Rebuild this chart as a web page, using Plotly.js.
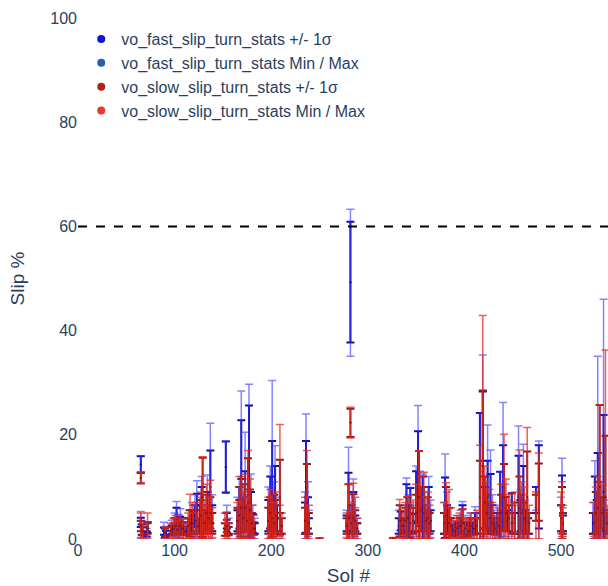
<!DOCTYPE html>
<html>
<head>
<meta charset="utf-8">
<script src="https://cdn.plot.ly/plotly-3.0.1.min.js"></script>
<style>
html,body{margin:0;padding:0;overflow:hidden;background:#fff;}
#chart{width:620px;height:586px;}
</style>
</head>
<body>
<div id="chart"></div>
<script>
// ---- data: vo_fast_slip_turn_stats ----
const fastSol  = [65,65,66,72,71, 89,91,97,100,102,104,106,109,112,115,118,121,123,126,128,131,134,137,139, 153,154,156, 165,167,169,171,173,175,177,179,181,183, 197,199,201,203,204,206,209, 235,236,238,239, 278,280,282,283,285,287,289, 332,334,337,340,342,344,347,350,352,354,357,359,361,363,365, 379,380,382,385,387,390,393,396,398,401,404,406,409,411,413,416,419,421,424,427,429,431,434,437,440,442,445,449,452,456,458,461,463,466,474,477, 500,501,502, 533,535,537,538,541,544,546,549];
const fastMean = [14.3,3.2,1.8,2.2,1.0, 1.5,1.1,1.8,2.8,4.2,2.5,3.0,2.2,1.6,2.5,3.5,4.5,5.5,4.0,6.5,3.5,5.5,10.0,4.0, 13.8,3.5,2.0, 3.5,6.0,12.0,5.0,8.0,4.0,13.0,5.5,3.0,2.0, 4.5,7.0,8.5,5.0,9.0,4.0,3.0, 4.0,10.0,5.0,2.5, 3.0,6.0,49.3,4.0,5.0,3.0,2.0, 2.5,3.5,2.5,5.5,4.0,5.0,3.0,8.0,12.0,6.0,6.0,4.0,3.0,5.0,3.5, 3.0,6.0,4.0,2.5,1.8,1.5,2.0,2.5,4.0,2.0,1.8,2.5,2.0,3.0,2.5,12.0,13.0,6.0,8.0,7.0,4.0,2.5,3.0,6.0,10.0,5.0,3.5,5.0,3.0,8.0,4.5,7.0,3.5,2.5,7.5,10.0, 4.0,6.0,3.0, 3.0,6.0,4.5,8.0,5.0,9.0,3.5,2.0];
const fastStd  = [1.6,0.9,1.0,1.0,0.5, 0.7,0.5,0.8,1.2,1.8,1.0,1.2,1.0,0.8,1.5,2.0,2.0,3.2,2.5,3.5,2.0,3.5,7.0,2.5, 4.9,1.5,1.0, 2.0,4.0,10.8,3.0,5.0,2.5,12.6,3.5,1.8,1.0, 3.0,5.0,10.3,3.5,5.0,2.5,2.0, 3.0,8.8,3.0,1.5, 1.5,6.7,11.6,2.5,4.0,1.5,1.0, 1.5,1.8,1.2,5.0,2.5,4.8,1.8,5.0,8.7,3.5,6.0,2.5,1.5,5.0,2.0, 2.0,5.8,2.5,1.5,1.0,0.8,1.0,1.5,2.5,1.2,1.0,1.5,1.0,2.0,1.5,12.2,15.3,4.0,7.0,5.5,2.5,1.5,2.0,6.9,8.0,3.0,2.0,3.8,2.0,8.0,3.0,7.0,2.0,1.5,2.5,8.0, 2.5,6.2,1.5, 2.0,6.0,3.0,8.5,3.0,14.8,2.0,1.0];
const fastMin  = [12.6,0.3,0.2,0.4,0, 0.1,0.2,0.3,0.5,0.6,0.3,0.2,0,0,0,0.3,0.5,0.5,0,0.5,0,0.5,1.0,0.3, 9.0,0.5,0, 0,0.5,0.5,0.3,0.5,0,0.5,0.3,0,0, 0,0.3,0,0.5,1.0,0,0, 0,0,0.5,0, 0.3,0,35.1,0.5,0,0.5,0, 0.3,0.5,0,0,0.5,0.5,0,0.5,0,0.5,0,0,0,0,0.3, 0,0,0.5,0,0,0,0.2,0.3,0.5,0,0,0.3,0,0,0,0,0,0.5,0,0,0,0,0.3,0.5,0,0.5,0,0.5,0,0,0.3,0,0.3,0,5.5,0, 1.0,0,0.5, 0,0,0,0,0.5,0,0,0];
const fastMax  = [16.0,5.3,3.5,3.3,2.0, 3.2,2.4,3.6,5.0,7.2,4.7,5.8,4.0,3.0,5.5,7.0,8.5,11.2,8.0,12.0,7.5,12.3,22.2,8.5, 18.8,6.5,4.0, 8.0,12.0,28.4,10.5,20.5,8.5,29.7,12.5,6.5,4.0, 10.0,14.0,30.4,11.0,17.9,8.0,6.5, 9.0,24.0,11.0,5.5, 5.5,17.6,63.3,9.0,11.5,6.0,4.0, 5.5,6.5,5.0,11.7,8.5,9.9,6.5,14.0,25.6,13.0,12.5,9.0,6.0,12.0,7.5, 7.0,16.3,9.0,6.0,4.0,3.5,4.5,5.5,7.2,4.5,3.8,5.0,4.0,6.2,5.0,24.2,35.3,12.0,21.9,17.1,8.5,5.5,6.5,12.9,26.2,10.5,7.5,8.8,6.5,21.7,9.5,18.2,7.5,5.0,10.0,18.8, 8.0,15.5,6.0, 7.0,15.0,9.0,35.1,11.0,46.0,7.5,4.0];

// ---- data: vo_slow_slip_turn_stats ----
const slowSol  = [65,65,67,72, 90,96,99,101,103,105,108,111,114,116,119,122,124,127,129,131,133,135,137,139, 152,154,156, 165,167,169,171,173,175,176,178,180,182, 197,199,201,203,205,209,211, 235,237,239, 250, 278,280,282,283,285,287,289, 326, 333,336,339,341,344,347,350,353,355,358,360,362,364, 379,381,384,386,389,392,395,398,401,404,407,410,413,416,419,421,423,426,429,432,435,438,441,443,446,449,452,457,459,462,465,467,474,477, 500,501,502, 534,536,538,540,542,546,548];
const slowMean = [11.7,2.5,1.5,2.0, 1.2,1.5,2.0,2.5,1.8,2.5,2.0,1.5,2.5,3.0,3.0,3.5,2.5,4.5,8.0,3.0,5.0,4.0,5.0,3.0, 1.8,2.5,1.5, 3.5,4.5,6.0,4.0,6.0,3.5,7.0,5.5,3.0,2.0, 3.5,5.0,4.0,3.0,4.5,8.0,2.5, 3.5,7.0,3.0, 0.1, 2.5,4.0,22.3,3.0,4.0,3.5,2.0, 0.1, 3.5,2.5,3.5,4.0,3.0,3.5,5.0,8.0,5.5,5.0,3.5,4.0,3.0, 3.0,4.5,3.0,2.5,1.5,2.0,2.5,3.0,2.0,1.5,2.5,2.0,2.5,8.0,14.0,7.0,5.0,4.0,3.0,2.0,2.5,5.0,8.0,5.0,4.0,3.0,4.0,6.0,5.0,4.0,8.0,3.0,6.0,9.0, 4.0,5.0,3.0, 3.0,5.0,6.0,10.0,5.0,8.0,3.0];
const slowStd  = [1.0,1.0,0.8,1.0, 0.8,0.8,1.0,1.5,1.0,1.2,1.0,0.8,1.5,2.5,2.0,2.0,1.5,3.0,7.6,2.0,3.5,2.5,3.0,2.0, 1.2,1.2,0.8, 2.5,3.0,5.5,2.5,4.5,2.0,8.5,4.0,2.0,1.2, 2.5,3.0,3.5,2.0,3.0,7.2,1.5, 2.5,7.4,2.0, 0.05, 1.5,6.5,2.7,2.0,4.6,2.0,1.0, 0.1, 3.0,1.5,2.5,4.0,2.0,2.5,3.5,8.9,4.0,5.0,2.0,4.0,2.0, 2.0,5.5,3.0,1.5,1.0,1.2,1.5,2.7,1.0,1.0,1.5,1.2,1.5,7.0,14.5,5.0,3.5,3.0,2.0,1.2,1.5,3.5,6.4,3.0,2.5,2.0,3.0,6.0,3.5,3.0,8.8,2.0,2.5,5.5, 2.5,5.0,2.0, 2.0,4.0,5.0,15.7,3.0,11.8,2.0];
const slowMin  = [10.6,0,0,0, 0,0,0,0,0,0.2,0,0,0,0,0,0,0,0,0,0,0,0,0,0, 0,0,0, 0,0,0,0,0,0,0,0,0,0, 0,0,0,0,0,0.5,0, 0,0,0, 0, 0,0,19.4,0,0,0,0, 0, 0,0,0,0,0,0,0,0,0,0,0,0,0, 0,0,0,0,0,0,0,0,0,0,0,0,0,0,0,0,0,0,0,0,0,0,0,0,0,0,0,0,0,0,0,0,0,0,0, 0.5,0,0.5, 0,0,0,0,0,0,0];
const slowMax  = [12.9,5.0,3.0,5.0, 2.3,3.0,4.0,4.5,3.5,4.5,3.8,3.0,5.0,8.6,6.5,7.0,5.0,9.0,15.8,6.5,10.5,8.0,11.3,6.0, 5.0,5.2,3.0, 7.0,10.0,12.0,9.0,12.5,8.0,17.0,11.5,6.5,4.5, 8.0,9.5,8.5,7.0,9.0,22.0,5.0, 8.0,17.0,6.5, 0.2, 5.0,10.5,25.3,7.0,10.7,8.0,4.0, 0.3, 7.6,5.5,7.0,8.1,7.0,7.5,10.5,16.9,12.0,12.8,8.0,9.0,6.5, 7.0,10.8,9.5,6.0,3.5,4.5,5.0,5.7,4.0,3.5,5.0,4.0,5.5,18.0,42.9,14.0,11.0,9.5,7.0,4.5,6.0,10.5,20.1,11.5,8.5,7.0,9.0,17.1,11.0,10.0,21.4,6.5,9.0,16.5, 9.0,11.0,6.5, 7.0,10.0,12.0,25.7,10.5,36.3,6.5];

const seriesNames = ['vo_fast_slip_turn_stats +/- 1σ','vo_fast_slip_turn_stats Min / Max','vo_slow_slip_turn_stats +/- 1σ','vo_slow_slip_turn_stats Min / Max'];
const legendColors = ['#0a16d2','#2a5ea6','#b0221c','#ea3a2a'];
const thresholdY = [60];

const up = (mx, m) => mx.map((v, i) => v - m[i]);
const dn = (mn, m) => m.map((v, i) => v - mn[i]);

const traces = [
  {x: fastSol, y: fastMean, mode: 'markers', type: 'scatter', showlegend: false, hoverinfo: 'skip',
   marker: {size: 2, color: 'rgb(10,10,170)'},
   error_y: {type: 'data', array: fastStd, symmetric: true, color: 'rgb(12,12,185)', thickness: 2, width: 4}},
  {x: fastSol, y: fastMean, mode: 'markers', type: 'scatter', showlegend: false, hoverinfo: 'skip',
   marker: {size: 2, color: 'rgb(10,10,170)'},
   error_y: {type: 'data', array: up(fastMax, fastMean), arrayminus: dn(fastMin, fastMean), symmetric: false, color: 'rgba(50,50,255,0.6)', thickness: 1.5, width: 4}},
  {x: slowSol, y: slowMean, mode: 'markers', type: 'scatter', showlegend: false, hoverinfo: 'skip',
   marker: {size: 2, color: 'rgb(130,20,20)'},
   error_y: {type: 'data', array: slowStd, symmetric: true, color: 'rgb(150,25,25)', thickness: 2, width: 4}},
  {x: slowSol, y: slowMean, mode: 'markers', type: 'scatter', showlegend: false, hoverinfo: 'skip',
   marker: {size: 2, color: 'rgb(130,20,20)'},
   error_y: {type: 'data', array: up(slowMax, slowMean), arrayminus: dn(slowMin, slowMean), symmetric: false, color: 'rgba(232,40,30,0.75)', thickness: 1.5, width: 4}}
];
seriesNames.forEach((n, i) => {
  traces.push({x: [null], y: [null], mode: 'markers', type: 'scatter', name: n, showlegend: true,
    marker: {size: 8, color: legendColors[i]}});
});

const layout = {
  width: 620, height: 586,
  margin: {l: 78, r: 1, t: 18, b: 47},
  paper_bgcolor: '#fff', plot_bgcolor: '#fff',
  font: {family: '"Liberation Sans", Arial, sans-serif', size: 16, color: '#2a3f5f'},
  showlegend: true,
  legend: {x: 0.006, y: 0.992, xanchor: 'left', yanchor: 'top', bgcolor: 'rgba(0,0,0,0)', font: {size: 16}},
  xaxis: {range: [0, 560], dtick: 100, tick0: 0, showgrid: false, zeroline: false, showline: false, ticks: '',
          title: {text: 'Sol #', font: {size: 19}, standoff: 14}},
  yaxis: {range: [0, 100], dtick: 20, tick0: 0, showgrid: false, zeroline: false, showline: false, ticks: '',
          title: {text: 'Slip %', font: {size: 19}, standoff: 20}},
  shapes: thresholdY.map(v => ({type: 'line', xref: 'paper', x0: 0, x1: 1, yref: 'y', y0: v, y1: v,
    line: {color: 'black', width: 2, dash: 'dash'}}))
};

Plotly.newPlot('chart', traces, layout, {displayModeBar: false, staticPlot: true});
</script>
</body>
</html>
